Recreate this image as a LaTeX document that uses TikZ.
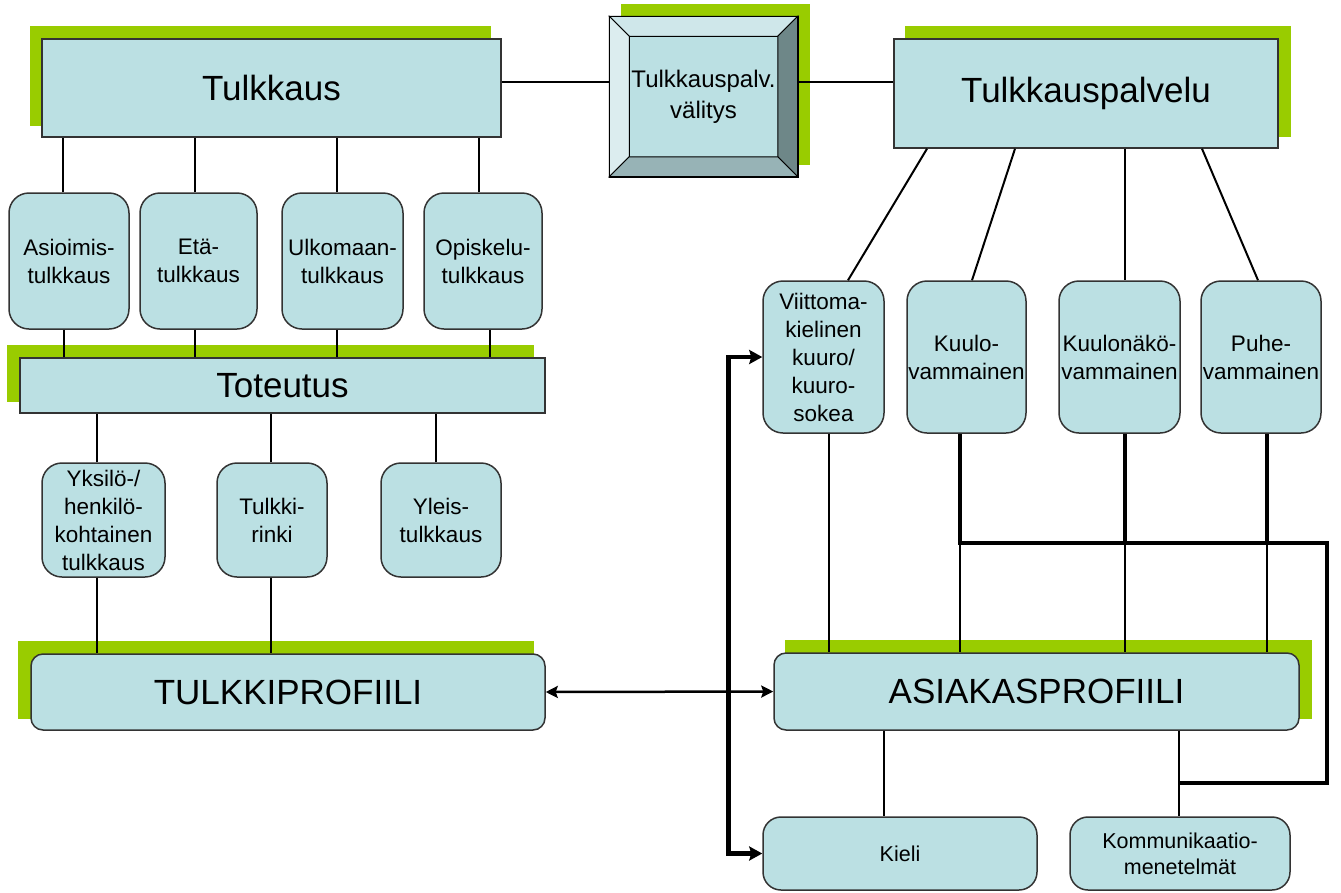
\documentclass[tikz,border=0pt]{standalone}
\usepackage{fontspec}
\setmainfont{Liberation Sans}
\usetikzlibrary{arrows.meta,calc,backgrounds}

\definecolor{laatikko}{HTML}{BBE0E3}
\definecolor{vihrea}{HTML}{99CC00}
\definecolor{viistoyla}{HTML}{CFE7EA}
\definecolor{viistovasen}{HTML}{DCEDEF}
\definecolor{viistooikea}{HTML}{6E8788}
\definecolor{viistoala}{HTML}{97B3B6}

\newcommand\isofontti{\fontsize{35}{42}\selectfont}
\newcommand\keskifontti{\fontsize{24}{31}\selectfont}
\newcommand\pienifontti{\fontsize{22.5}{28}\selectfont}
%% green block behind a box: node, x offset
\newcommand\varjo[2]{\fill[vihrea] ($(#1.north west)+(#2,-12)$) rectangle ($(#1.south east)+(#2,-12)$);}

\begin{document}
\begin{tikzpicture}[x=1pt,y=-1pt]
\tikzstyle{laatikko}=[draw=black!80,fill=laatikko,line width=1.5pt,inner sep=1pt,align=center]
\tikzstyle{otsikko}=[laatikko,font=\isofontti]
\tikzstyle{pieni}=[laatikko,rounded corners=20pt,font=\pienifontti]
\tikzstyle{profiili}=[laatikko,rounded corners=12pt,font=\isofontti]
\tikzstyle{viiva}=[line width=2pt]
\tikzstyle{paksu}=[line width=4.5pt]
\tikzstyle{nuoli}=[line width=2.5pt,{Stealth[length=12pt,width=12pt,inset=2pt]}-{Stealth[length=12pt,width=12pt,inset=2pt]}]
\tikzstyle{paksunuoli}=[paksu,{Stealth[length=13pt,width=14pt,inset=2pt]}-{Stealth[length=13pt,width=14pt,inset=2pt]}]

\useasboundingbox (0,0) rectangle (1341,892);

%% Top row
\node[otsikko,minimum width=459pt,minimum height=98pt] (tulkkaus) at (271.5,88) {Tulkkaus};
\node[laatikko,minimum width=187pt,minimum height=159pt,font=\keskifontti] (valitys) at (703.5,96.5) {Tulkkauspalv.\\välitys};
\node[otsikko,minimum width=384pt,minimum height=109pt] (palvelu) at (1086,93.5) {Tulkkauspalvelu};

%% bevel of the middle box
\begin{scope}[line width=1pt]
\filldraw[fill=viistoyla] (valitys.north west) -- (valitys.north east) -- ++(-20,20) -- ($(valitys.north west)+(20,20)$) -- cycle;
\filldraw[fill=viistovasen] (valitys.north west) -- ++(20,20) -- ($(valitys.south west)+(20,-20)$) -- (valitys.south west) -- cycle;
\filldraw[fill=viistooikea] (valitys.north east) -- ++(-20,20) -- ($(valitys.south east)+(-20,-20)$) -- (valitys.south east) -- cycle;
\filldraw[fill=viistoala] (valitys.south west) -- ++(20,-20) -- ($(valitys.south east)+(-20,-20)$) -- (valitys.south east) -- cycle;
\draw[line width=1.5pt] (valitys.north west) rectangle (valitys.south east);
\end{scope}

%% Kinds of interpreting
\node[pieni,minimum width=120pt,minimum height=136pt] (asio) at (69,261) {Asioimis-\\tulkkaus};
\node[pieni,minimum width=117pt,minimum height=136pt] (eta) at (198.5,261) {Etä-\\tulkkaus};
\node[pieni,minimum width=121pt,minimum height=136pt] (ulko) at (342.5,261) {Ulkomaan-\\tulkkaus};
\node[pieni,minimum width=118pt,minimum height=136pt] (opis) at (483,261) {Opiskelu-\\tulkkaus};

\node[otsikko,minimum width=525pt,minimum height=55pt] (toteutus) at (282.5,385.5) {Toteutus};

\node[pieni,minimum width=123pt,minimum height=114pt] (yksilo) at (103.5,520) {Yksilö-/\\henkilö-\\kohtainen\\tulkkaus};
\node[pieni,minimum width=110pt,minimum height=114pt] (rinki) at (272,520) {Tulkki-\\rinki};
\node[pieni,minimum width=120pt,minimum height=114pt] (yleis) at (441,520) {Yleis-\\tulkkaus};

\node[profiili,minimum width=514pt,minimum height=76pt] (tulkkiprof) at (288,692) {TULKKIPROFIILI};

%% Customer side
\node[pieni,minimum width=121pt,minimum height=152pt] (viittoma) at (823.5,357) {Viittoma-\\kielinen\\kuuro/\\kuuro-\\sokea};
\node[pieni,minimum width=119pt,minimum height=152pt] (kuulo) at (966.5,357) {Kuulo-\\vammainen};
\node[pieni,minimum width=121pt,minimum height=152pt] (kuulonako) at (1119.5,357) {Kuulonäkö-\\vammainen};
\node[pieni,minimum width=120pt,minimum height=152pt] (puhe) at (1261,357) {Puhe-\\vammainen};

\node[profiili,minimum width=525pt,minimum height=77pt] (asiakasprof) at (1036.5,691.5) {ASIAKASPROFIILI};

\node[pieni,rounded corners=18pt,minimum width=274pt,minimum height=73pt,font=\fontsize{21.5}{26}\selectfont] (kieli) at (900,853.5) {Kieli};
\node[pieni,rounded corners=18pt,minimum width=220pt,minimum height=73pt,font=\fontsize{21.5}{26}\selectfont] (kommunikaatio) at (1180,853.5) {Kommunikaatio-\\menetelmät};

%% green blocks
\begin{scope}[on background layer]
\varjo{tulkkaus}{-11}
\varjo{valitys}{12}
\varjo{palvelu}{12}
\varjo{toteutus}{-12}
\varjo{tulkkiprof}{-12}
\varjo{asiakasprof}{12}
\end{scope}

%% Connectors
\draw[viiva] ([yshift=14.5pt]valitys.west) -- ([yshift=14.5pt]valitys.west -| tulkkaus.east);
\draw[viiva] ([yshift=14.5pt]valitys.east) -- ([yshift=14.5pt]valitys.east -| palvelu.west);

\foreach \n/\a/\b in {asio/-6/-5.5, eta/-3.5/-4, ulko/-5.5/-6, opis/-4/7}{
  \draw[viiva] ([xshift=\a pt]\n.north) -- ([xshift=\a pt]\n.north |- tulkkaus.south);
  \draw[viiva] ([xshift=\b pt]\n.south) -- ([xshift=\b pt]\n.south |- toteutus.north);
}
\foreach \n/\a in {yksilo/-6.5, rinki/-1, yleis/-5}
  \draw[viiva] ([xshift=\a pt]\n.north) -- ([xshift=\a pt]\n.north |- toteutus.south);
\draw[viiva] ([xshift=-6.5pt]yksilo.south) -- ([xshift=-6.5pt]yksilo.south |- tulkkiprof.north);
\draw[viiva] ([xshift=-1pt]rinki.south) -- ([xshift=-1pt]rinki.south |- tulkkiprof.north);

\draw[viiva] ([xshift=-159pt]palvelu.south) -- ([xshift=24.5pt]viittoma.north);
\draw[viiva] ([xshift=-71pt]palvelu.south) -- ([xshift=5.5pt]kuulo.north);
\draw[viiva] ([xshift=39pt]palvelu.south) -- ([xshift=5.5pt]kuulonako.north);
\draw[viiva] ([xshift=116pt]palvelu.south) -- ([xshift=-3pt]puhe.north);

\foreach \n/\a in {viittoma/5.5, kuulo/-6.5, kuulonako/5.5, puhe/6}
  \draw[viiva] ([xshift=\a pt]\n.south) -- ([xshift=\a pt]\n.south |- asiakasprof.north);
\draw[viiva] ([xshift=-152.5pt]asiakasprof.south) -- ([xshift=-16pt]kieli.north);
\draw[viiva] ([xshift=142.5pt]asiakasprof.south) -- ([xshift=-1pt]kommunikaatio.north);

\coordinate (kulma) at (1327,543);
\coordinate (liitos) at (1178,783);
\draw[paksu] ([xshift=-6.5pt]kuulo.south) |- (kulma) |- (liitos);
\draw[paksu] ([xshift=5.5pt]kuulonako.south) -- ([xshift=5.5pt]kuulonako.south |- kulma);
\draw[paksu] ([xshift=6pt]puhe.south) -- ([xshift=6pt]puhe.south |- kulma);

\draw[nuoli] (tulkkiprof.east) -- (asiakasprof.west);
\draw[paksunuoli] (viittoma.west) -- ++(-34,0) |- (kieli.west);

\end{tikzpicture}
\end{document}
